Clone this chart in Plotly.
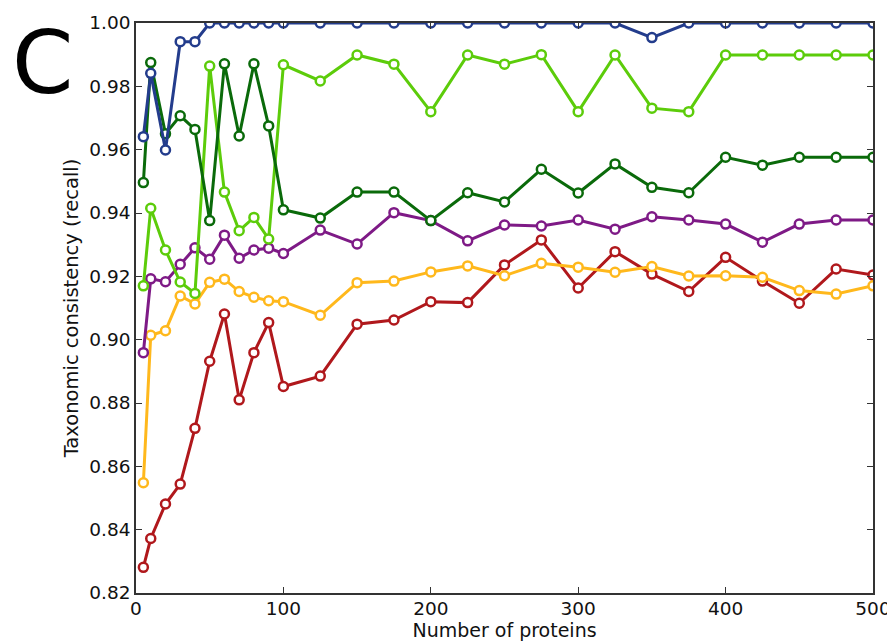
import plotly.graph_objects as go

x_vals = [5, 10, 20, 30, 40, 50, 60, 70, 80, 90, 100, 125, 150, 175, 200, 225,
          250, 275, 300, 325, 350, 375, 400, 425, 450, 475, 500]

red = [0.8281, 0.8372, 0.8481, 0.8544, 0.8720, 0.8932, 0.9081, 0.8810, 0.8959, 0.9054,
       0.8852, 0.8885, 0.9049, 0.9062, 0.9120, 0.9117, 0.9236, 0.9315, 0.9163, 0.9278,
       0.9207, 0.9152, 0.9260, 0.9185, 0.9115, 0.9223, 0.9204]
yellow = [0.8548, 0.9014, 0.9028, 0.9138, 0.9113, 0.9181, 0.9191, 0.9152, 0.9134, 0.9123,
          0.9120, 0.9077, 0.9180, 0.9185, 0.9214, 0.9233, 0.9202, 0.9241, 0.9229, 0.9213,
          0.9231, 0.9201, 0.9202, 0.9197, 0.9155, 0.9144, 0.9170]
purple = [0.8959, 0.9192, 0.9183, 0.9238, 0.9290, 0.9254, 0.9330, 0.9257, 0.9283, 0.9289,
          0.9272, 0.9346, 0.9302, 0.9401, 0.9376, 0.9312, 0.9362, 0.9359, 0.9378, 0.9349,
          0.9388, 0.9378, 0.9365, 0.9308, 0.9365, 0.9378, 0.9378]
light_green = [0.9170, 0.9415, 0.9283, 0.9182, 0.9146, 0.9864, 0.9466, 0.9344, 0.9386, 0.9318,
               0.9868, 0.9817, 0.9899, 0.9870, 0.9720, 0.9899, 0.9870, 0.9900, 0.9720, 0.9899,
               0.9731, 0.9720, 0.9899, 0.9899, 0.9899, 0.9899, 0.9899]
dark_green = [0.9496, 0.9875, 0.9650, 0.9707, 0.9664, 0.9376, 0.9871, 0.9643, 0.9871, 0.9675,
              0.9410, 0.9384, 0.9466, 0.9466, 0.9376, 0.9464, 0.9435, 0.9538, 0.9463, 0.9555,
              0.9481, 0.9464, 0.9576, 0.9551, 0.9576, 0.9576, 0.9576]
blue = [0.9641, 0.9841, 0.9599, 0.9941, 0.9941, 1.0, 1.0, 1.0, 1.0, 1.0,
        1.0, 1.0, 1.0, 1.0, 1.0, 1.0, 1.0, 1.0, 1.0, 1.0,
        0.9954, 1.0, 1.0, 1.0, 1.0, 1.0, 1.0]

series = [
    ("red", red, "#b0181c"),
    ("yellow", yellow, "#ffb81c"),
    ("purple", purple, "#7e1a86"),
    ("light green", light_green, "#5ccc0a"),
    ("dark green", dark_green, "#0a6a0a"),
    ("blue", blue, "#233c8c"),
]

y_ticks = [0.82, 0.84, 0.86, 0.88, 0.90, 0.92, 0.94, 0.96, 0.98, 1.00]
x_ticks = [0, 100, 200, 300, 400, 500]

fig = go.Figure()
for name, vals, col in series:
    fig.add_trace(go.Scatter(
        x=x_vals, y=vals, name=name, mode="lines+markers",
        line=dict(color=col, width=3),
        marker=dict(symbol="circle", size=9, color="white",
                    line=dict(color=col, width=2.5)),
        cliponaxis=True, showlegend=False,
    ))

axis_common = dict(
    showgrid=False, zeroline=False, showline=True, linecolor="#333333", linewidth=1.5,
    mirror="ticks", ticks="inside", ticklen=6, tickcolor="#333333", tickwidth=1,
    tickfont=dict(family="DejaVu Sans", size=18.5, color="#111111"),
)

# page body has an 8px margin, so the figure is sized/offset to compensate
fig.update_layout(
    width=887, height=634,
    margin=dict(l=128, r=22, t=15, b=49),
    paper_bgcolor="white", plot_bgcolor="white",
    xaxis=dict(range=[0, 500], tickvals=x_ticks, ticktext=[str(v) for v in x_ticks],
               ticklabelstandoff=-2,
               title=dict(text="Number of proteins", standoff=4,
                          font=dict(family="DejaVu Sans", size=19, color="#111111")),
               automargin=False, **axis_common),
    yaxis=dict(range=[0.82, 1.00], tickvals=y_ticks, ticktext=[f"{v:.2f}" for v in y_ticks],
               title=dict(text="Taxonomic consistency (recall)", standoff=6,
                          font=dict(family="DejaVu Sans", size=19.5, color="#111111")),
               automargin=False, **axis_common),
    annotations=[dict(text="C", x=0.0, y=1.0, xref="paper", yref="paper",
                      xanchor="left", yanchor="top", xshift=-126, yshift=14, showarrow=False,
                      font=dict(family="DejaVu Sans", size=88, color="black"))],
)

fig.write_html("out.html")
